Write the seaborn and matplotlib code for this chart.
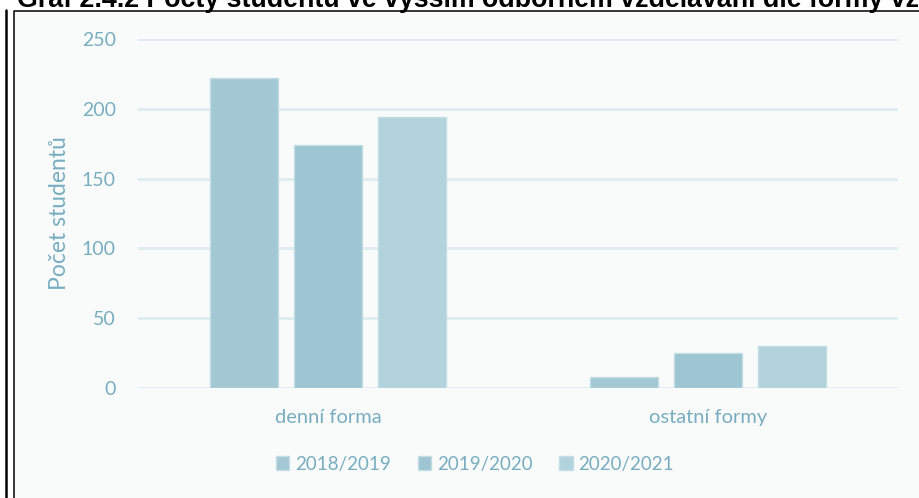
import matplotlib
import matplotlib.pyplot as plt
import pandas as pd
import seaborn as sns
from matplotlib.lines import Line2D
from matplotlib.patches import Rectangle

matplotlib.use("Agg")

# data
forms = ["denní forma", "ostatní formy"]
years = ["2018/2019", "2019/2020", "2020/2021"]
counts_2018 = [222, 8]
counts_2019 = [174, 25]
counts_2020 = [194, 30]
y_ticks = [0, 50, 100, 150, 200, 250]
y_label = "Počet studentů"
title = "Graf 2.4.2 Počty studentů ve vyšším odborném vzdělávání dle formy vzdělávání"

df = pd.DataFrame({
    "forma": forms * 3,
    "rok": [years[0]] * 2 + [years[1]] * 2 + [years[2]] * 2,
    "pocet": counts_2018 + counts_2019 + counts_2020,
})

sns.set_style("white")
plt.rcParams["font.family"] = ["Lato", "DejaVu Sans"]

W, H = 919, 498
text_color = "#78adc0"
grid_color = "#dfecf0"
bar_colors = ["#a3c8d3", "#9dc5d2", "#b3d3dc"]

fig = plt.figure(figsize=(W / 100, H / 100), dpi=100, facecolor="white")

# light chart area background
fig.add_artist(Rectangle((14 / W, 0), 1 - 14 / W, 1 - 12 / H,
                         transform=fig.transFigure, facecolor="#f9fbfb",
                         edgecolor="none", zorder=0))

ax = fig.add_axes([138 / W, 1 - 388 / H, 760 / W, 349 / H])
ax.set_facecolor("none")

sns.barplot(data=df, x="forma", y="pocet", hue="rok", palette=bar_colors,
            saturation=1, width=0.663, gap=0.2, edgecolor="#c3dde5",
            linewidth=1, ax=ax)

ax.set_xlim(-0.5, 1.5)
ax.set_ylim(0, 250)
ax.set_yticks(y_ticks)
ax.yaxis.grid(True, color=grid_color, linewidth=2)
ax.set_axisbelow(True)
for s in ax.spines.values():
    s.set_visible(False)

ax.tick_params(axis="y", length=0, labelsize=14, labelcolor=text_color, pad=16)
ax.tick_params(axis="x", length=0, labelsize=14.5, labelcolor=text_color, pad=15)
ax.set_xlabel("")
ax.set_ylabel(y_label, color=text_color, fontsize=16.5)
ax.yaxis.set_label_coords(-0.09, 0.5)

handles, labels = ax.get_legend_handles_labels()
ax.legend(handles, labels, loc="center", ncol=3, frameon=False,
          bbox_to_anchor=(475 / W, 1 - 464 / H), bbox_transform=fig.transFigure,
          fontsize=13.5, labelcolor=text_color, handlelength=0.7,
          handleheight=0.7, handletextpad=0.3, columnspacing=1.45)

# heading cut off at the top edge, as in the source, and frame lines
fig.text(17 / W, 1 - 7 / H, title, fontsize=19.3, fontweight="bold",
         family=["Liberation Sans", "DejaVu Sans"], color="black",
         va="baseline", ha="left")
fig.add_artist(Line2D([6 / W, 6 / W], [0, 1 - 10 / H], color="black", lw=1.8))
fig.add_artist(Line2D([13.5 / W, 13.5 / W, 1], [0, 1 - 11.5 / H, 1 - 11.5 / H],
                      color="black", lw=1.1))

fig.savefig("out.png", dpi=100, facecolor="white")
